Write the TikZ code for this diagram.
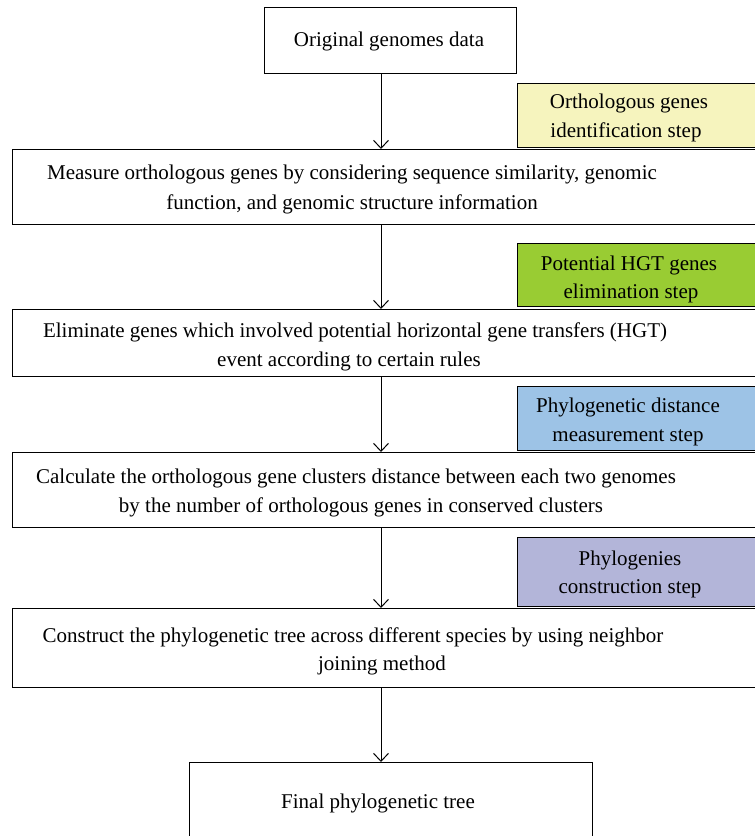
\documentclass[tikz,border=0pt]{standalone}
\usepackage{fontspec}
\setmainfont{Liberation Serif}
\usetikzlibrary{arrows.meta}
\definecolor{stepyellow}{RGB}{246,244,190}
\definecolor{stepgreen}{RGB}{153,204,51}
\definecolor{stepblue}{RGB}{157,195,230}
\definecolor{steppurple}{RGB}{179,181,217}
\begin{document}
\begin{tikzpicture}[x=1bp,y=-1bp,
  box/.style={draw, line width=1.3bp, inner sep=0pt, anchor=north west, fill=white},
  stepbox/.style={draw, line width=1.4bp, inner sep=0pt, anchor=north west, minimum width=270bp},
  txt/.style={font=\fontsize{21bp}{28bp}\selectfont, inner sep=0pt, anchor=base},
  arr/.style={-{Straight Barb[length=8bp,width=15bp]}, line width=1bp}]
\useasboundingbox (0,0) rectangle (755,836);
% main boxes
\node[box, minimum width=252bp, minimum height=66bp] (top) at (264,7) {};
\node[box, minimum width=780bp, minimum height=75bp] (b2) at (12,149) {};
\node[box, minimum width=780bp, minimum height=67bp] (b3) at (12,309) {};
\node[box, minimum width=780bp, minimum height=75bp] (b4) at (12,452) {};
\node[box, minimum width=780bp, minimum height=79bp] (b5) at (12,608) {};
\node[box, minimum width=403bp, minimum height=100bp] (fin) at (189,762) {};
% step boxes
\node[stepbox, fill=stepyellow, minimum height=64bp] (s1) at (517,83) {};
\node[stepbox, fill=stepgreen, minimum height=63bp] (s2) at (517,243) {};
\node[stepbox, fill=stepblue, minimum height=64bp] (s3) at (517,386) {};
\node[stepbox, fill=steppurple, minimum height=69bp] (s4) at (517,537) {};
% texts
\node[txt] (t1) at (389,46) {Original genomes data};
\node[txt] (t2a) at (352,179) {Measure orthologous genes by considering sequence similarity, genomic};
\node[txt] (t2b) at (352,209) {function, and genomic structure information};
\node[txt] (t3a) at (355,337) {Eliminate genes which involved potential horizontal gene transfers (HGT)};
\node[txt] (t3b) at (349,366) {event according to certain rules};
\node[txt] (t4a) at (356,483) {Calculate the orthologous gene clusters distance between each two genomes};
\node[txt] (t4b) at (361,512) {by the number of orthologous genes in conserved clusters};
\node[txt] (t5a) at (353,642) {Construct the phylogenetic tree across different species by using neighbor};
\node[txt] (t5b) at (382,670) {joining method};
\node[txt] (t6) at (378,808) {Final phylogenetic tree};
\node[txt] (u1a) at (629,108) {Orthologous genes};
\node[txt] (u1b) at (626,137) {identification step};
\node[txt] (u2a) at (629,270) {Potential HGT genes};
\node[txt] (u2b) at (631,298) {elimination step};
\node[txt] (u3a) at (628,412) {Phylogenetic distance};
\node[txt] (u3b) at (628,441) {measurement step};
\node[txt] (u4a) at (630,565) {Phylogenies};
\node[txt] (u4b) at (630,593) {construction step};
% arrows
\coordinate (ax) at (381,0);
\draw[arr] (top.south -| ax) -- (b2.north -| ax);
\draw[arr] (b2.south -| ax) -- (b3.north -| ax);
\draw[arr] (b3.south -| ax) -- (b4.north -| ax);
\draw[arr] (b4.south -| ax) -- (b5.north -| ax);
\draw[arr] (b5.south -| ax) -- (fin.north -| ax);
\end{tikzpicture}
\end{document}
